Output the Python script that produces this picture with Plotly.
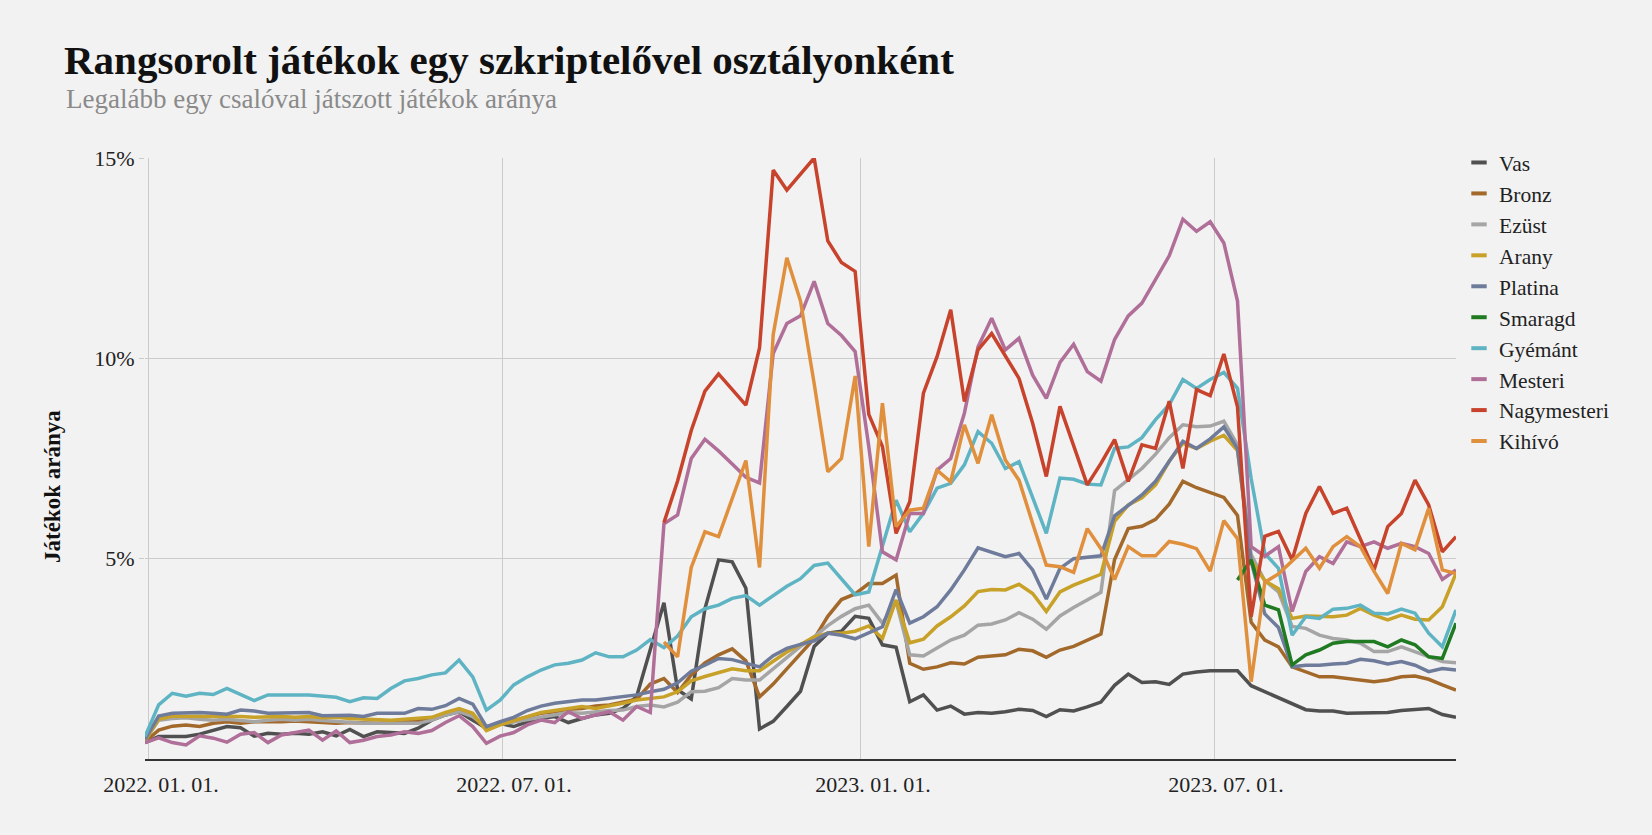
import pandas as pd
import plotly.graph_objects as go

# ---------------- data ----------------
start_date = "2021-12-30"
n_weeks = 97
dates = pd.date_range(start_date, periods=n_weeks, freq="7D")

N = None
vas = [0.41, 0.56, 0.56, 0.56, 0.62, 0.72, 0.81, 0.78, 0.57, 0.64, 0.62, 0.64, 0.62, 0.68, 0.58, 0.74,
       0.56, 0.68, 0.66, 0.64, 0.77, 0.97, 1.10, 1.18, 0.97, 0.77, 0.89, 0.81, 0.93, 1.01, 1.06, 0.91,
       1.01, 1.10, 1.14, 1.26, 1.56, 2.70, 3.90, 1.73, 1.50, 3.75, 4.97, 4.92, 4.26, 0.75, 0.94, 1.31,
       1.69, 2.81, 3.14, 3.19, 3.56, 3.51, 2.85, 2.79, 1.43, 1.60, 1.22, 1.32, 1.12, 1.16, 1.14, 1.18,
       1.24, 1.21, 1.06, 1.23, 1.20, 1.30, 1.42, 1.84, 2.12, 1.91, 1.93, 1.86, 2.12, 2.17, 2.20, 2.20,
       2.20, 1.83, 1.68, 1.55, 1.39, 1.23, 1.20, 1.20, 1.14, 1.14, 1.14, 1.16, 1.21, 1.24, 1.26, 1.11, 1.04]
bronz = [0.43, 0.72, 0.82, 0.85, 0.81, 0.89, 0.93, 0.89, 0.93, 0.92, 0.93, 0.95, 0.93, 0.91, 0.89, 0.91,
         0.89, 0.89, 0.91, 0.93, 0.95, 0.99, 1.11, 1.23, 1.07, 0.74, 0.87, 0.96, 1.06, 1.14, 1.18, 1.24,
         1.26, 1.32, 1.35, 1.43, 1.49, 1.87, 2.01, 1.66, 2.10, 2.40, 2.60, 2.75, 2.45, 1.55, 1.87, 2.25,
         2.62, 3.00, 3.56, 3.98, 4.12, 4.38, 4.38, 4.59, 2.39, 2.24, 2.30, 2.40, 2.37, 2.54, 2.57, 2.60,
         2.74, 2.70, 2.54, 2.72, 2.81, 2.97, 3.12, 4.98, 5.75, 5.81, 5.98, 6.36, 6.93, 6.77, 6.65, 6.53,
         6.08, 3.41, 2.97, 2.80, 2.30, 2.18, 2.05, 2.05, 2.01, 1.97, 1.93, 1.97, 2.05, 2.07, 1.99, 1.85, 1.72]
ezust = [0.47, 0.97, 1.01, 1.03, 0.99, 0.97, 0.99, 0.96, 0.93, 0.97, 0.99, 0.97, 0.99, 0.96, 0.93, 0.91,
         0.89, 0.89, 0.89, 0.89, 0.89, 0.97, 1.10, 1.18, 1.06, 0.81, 0.87, 0.93, 0.99, 1.04, 1.10, 1.16,
         1.14, 1.18, 1.21, 1.22, 1.31, 1.35, 1.30, 1.42, 1.68, 1.69, 1.78, 2.01, 1.97, 1.97, 2.25, 2.53,
         2.81, 3.05, 3.33, 3.56, 3.75, 3.84, 3.39, 3.93, 2.60, 2.57, 2.76, 2.97, 3.09, 3.34, 3.37, 3.47,
         3.65, 3.49, 3.24, 3.57, 3.78, 3.97, 4.16, 6.70, 6.98, 7.25, 7.61, 8.02, 8.34, 8.29, 8.31, 8.43,
         7.84, 5.10, 4.45, 4.17, 3.31, 3.26, 3.09, 3.01, 2.97, 2.89, 2.68, 2.68, 2.80, 2.68, 2.55, 2.43, 2.40]
arany = [0.47, 0.99, 1.07, 1.07, 1.06, 1.06, 1.07, 1.06, 1.04, 1.06, 1.06, 1.04, 1.06, 1.03, 1.04, 1.01,
         0.99, 0.97, 0.97, 0.99, 1.01, 1.04, 1.16, 1.26, 1.14, 0.71, 0.85, 0.96, 1.07, 1.16, 1.21, 1.26,
         1.31, 1.26, 1.32, 1.39, 1.47, 1.51, 1.55, 1.68, 1.95, 2.06, 2.15, 2.25, 2.20, 2.20, 2.44, 2.67,
         2.86, 3.05, 3.14, 3.14, 3.19, 3.32, 3.01, 3.97, 2.90, 2.99, 3.32, 3.55, 3.82, 4.18, 4.23, 4.22,
         4.36, 4.13, 3.68, 4.17, 4.34, 4.47, 4.61, 5.93, 6.34, 6.52, 6.84, 7.43, 7.88, 7.75, 7.93, 8.08,
         7.70, 4.95, 4.45, 4.25, 3.51, 3.57, 3.55, 3.55, 3.59, 3.76, 3.59, 3.47, 3.59, 3.49, 3.47, 3.80, 4.63]
platina = [0.49, 1.07, 1.14, 1.16, 1.16, 1.14, 1.12, 1.22, 1.20, 1.14, 1.14, 1.14, 1.16, 1.08, 1.09, 1.09,
           1.06, 1.14, 1.14, 1.14, 1.26, 1.24, 1.33, 1.51, 1.37, 0.81, 0.93, 1.04, 1.21, 1.32, 1.39, 1.43,
           1.47, 1.47, 1.51, 1.54, 1.60, 1.68, 1.74, 1.90, 2.19, 2.34, 2.51, 2.48, 2.39, 2.30, 2.58, 2.76,
           2.86, 2.95, 3.14, 3.09, 3.00, 3.16, 3.30, 4.23, 3.39, 3.55, 3.80, 4.22, 4.72, 5.27, 5.15, 5.05,
           5.13, 4.72, 3.99, 4.76, 5.00, 5.04, 5.07, 6.07, 6.34, 6.59, 6.93, 7.43, 7.93, 7.75, 7.99, 8.29,
           7.75, 4.93, 3.62, 3.28, 2.30, 2.34, 2.34, 2.37, 2.39, 2.49, 2.45, 2.37, 2.43, 2.34, 2.18, 2.26, 2.22]
smaragd = [N] * 80 + [4.47, 4.97, 3.84, 3.72, 2.35, 2.60, 2.72, 2.89, 2.93, 2.93, 2.93, 2.80, 2.97, 2.85,
                      2.55, 2.51, 3.39]
gyemant = [0.56, 1.35, 1.64, 1.57, 1.64, 1.61, 1.76, 1.60, 1.46, 1.60, 1.59, 1.60, 1.60, 1.57, 1.54, 1.43,
           1.53, 1.51, 1.76, 1.95, 2.01, 2.10, 2.15, 2.47, 2.05, 1.22, 1.47, 1.85, 2.05, 2.22, 2.35, 2.39,
           2.47, 2.65, 2.55, 2.55, 2.72, 2.98, 2.78, 3.07, 3.55, 3.75, 3.84, 4.01, 4.08, 3.84, 4.08, 4.31,
           4.50, 4.83, 4.89, 4.50, 4.10, 4.17, 5.30, 6.46, 5.67, 6.13, 6.76, 6.88, 7.34, 8.17, 7.88, 7.25,
           7.42, 6.55, 5.63, 7.01, 6.98, 6.86, 6.84, 7.75, 7.79, 8.02, 8.47, 8.84, 9.47, 9.25, 9.47, 9.65,
           9.25, 7.00, 5.13, 4.76, 3.09, 3.55, 3.51, 3.74, 3.76, 3.84, 3.64, 3.62, 3.74, 3.64, 3.14, 2.80, 3.72]
mesteri = [0.41, 0.53, 0.41, 0.35, 0.58, 0.52, 0.42, 0.62, 0.66, 0.41, 0.60, 0.66, 0.72, 0.47, 0.70, 0.41,
           0.47, 0.56, 0.60, 0.68, 0.64, 0.71, 0.91, 1.08, 0.81, 0.39, 0.57, 0.66, 0.85, 0.97, 0.91, 1.18,
           1.01, 1.10, 1.18, 0.97, 1.31, 1.16, 5.87, 6.09, 7.50, 7.98, 7.69, 7.36, 7.03, 6.89, 10.12, 10.87,
           11.06, 11.92, 10.87, 10.57, 10.17, 7.80, 5.17, 4.97, 6.13, 6.13, 7.21, 7.50, 8.63, 10.29, 11.00,
           10.21, 10.50, 9.58, 9.00, 9.90, 10.35, 9.67, 9.43, 10.47, 11.06, 11.38, 11.97, 12.56, 13.47,
           13.17, 13.41, 12.88, 11.43, 5.30, 5.06, 5.30, 3.68, 4.68, 5.05, 4.88, 5.42, 5.30, 5.42, 5.26,
           5.38, 5.30, 5.13, 4.48, 4.72]
nagymesteri = [N] * 38 + [5.90, 6.94, 8.20, 9.18, 9.61, 9.23, 8.83, 10.26, 14.70, 14.20, 14.60, 15.00,
                          12.93, 12.39, 12.17, 8.60, 7.80, 5.63, 6.42, 9.13, 10.04, 11.21, 8.92, 10.21,
                          10.62, 10.04, 9.50, 8.38, 7.05, 8.80, 7.85, 6.84, 7.38, 7.97, 6.93, 7.84, 7.75,
                          8.93, 7.25, 9.22, 9.07, 10.11, 8.79, 3.55, 5.56, 5.68, 4.97, 6.13, 6.80, 6.13,
                          6.26, 5.47, 4.72, 5.80, 6.13, 6.96, 6.34, 5.17, 5.55]
kihivo = [N] * 38 + [2.92, 2.55, 4.78, 5.67, 5.55, 6.47, 7.45, 4.78, 10.59, 12.51, 11.43, 9.37, 7.17, 7.50,
                     9.56, 5.30, 8.88, 5.80, 6.21, 6.26, 7.21, 6.92, 8.34, 7.38, 8.59, 7.46, 6.96, 5.88,
                     4.84, 4.80, 4.66, 5.75, 5.25, 4.48, 5.30, 5.07, 5.07, 5.43, 5.36, 5.25, 4.69, 5.95,
                     5.50, 1.93, 4.41, 4.62, 4.93, 5.26, 4.76, 5.30, 5.55, 5.30, 4.68, 4.13, 5.38, 5.22,
                     6.26, 4.72, 4.63]

series_names = ["Vas", "Bronz", "Ezüst", "Arany", "Platina", "Smaragd", "Gyémánt", "Mesteri",
                "Nagymesteri", "Kihívó"]
series_values = [vas, bronz, ezust, arany, platina, smaragd, gyemant, mesteri, nagymesteri, kihivo]
series_colors = ["#505050", "#a2692b", "#a5a5a5", "#c8a128", "#6e7b9a", "#1f7a22", "#5fb4c4",
                 "#b06f98", "#c8432c", "#e0903d"]

y_tick_vals = [5, 10, 15]
y_tick_text = ["5%", "10%", "15%"]
x_tick_vals = ["2022-01-01", "2022-07-01", "2023-01-01", "2023-07-01"]

title_text = "Rangsorolt játékok egy szkriptelővel osztályonként"
subtitle_text = "Legalább egy csalóval játszott játékok aránya"
y_title = "Játékok aránya"

# ---------------- figure ----------------
FONT = "Liberation Serif"
W, H = 1652, 835
L, R, T, B = 145, 196, 158, 76
plot_w, plot_h = W - L - R, H - T - B

fig = go.Figure()
for name, vals, col in zip(series_names, series_values, series_colors):
    fig.add_trace(go.Scatter(x=dates, y=vals, mode="lines", name=name, showlegend=False,
                             line=dict(color=col, width=3.5), connectgaps=False))
for name, col in zip(series_names, series_colors):
    fig.add_trace(go.Scatter(x=[None], y=[None], mode="markers", name=name, showlegend=True,
                             marker=dict(symbol="line-ew", size=11, color=col,
                                         line=dict(width=4, color=col))))


def px_x(x):
    return (x - L) / plot_w


def px_y(y):
    return (H - y - B) / plot_h


fig.update_layout(
    width=W, height=H, autosize=False,
    margin=dict(l=L, r=R, t=T, b=B, autoexpand=False),
    paper_bgcolor="#f2f2f2", plot_bgcolor="#f2f2f2",
    font=dict(family=FONT, size=22, color="#222222"),
    title=dict(text="<b>" + title_text + "</b>", x=64 / W, xanchor="left",
               y=1 - 45 / H, yanchor="top",
               font=dict(family=FONT, size=41, color="#111111")),
    legend=dict(xref="container", yref="container", x=1459 / W, y=1 - 142 / H,
                xanchor="left", yanchor="top", bgcolor="rgba(0,0,0,0)",
                font=dict(family=FONT, size=21.5, color="#222222"),
                itemwidth=30, traceorder="normal"),
    xaxis=dict(range=[dates[0], dates[-1]], tickvals=x_tick_vals, tickformat="%Y. %m. %d.",
               showgrid=True, gridcolor="#cbcbcb", gridwidth=1, zeroline=False,
               showline=True, linecolor="#333333", linewidth=1.5, ticks="",
               ticklabelshift=12, ticklabelstandoff=5,
               tickfont=dict(family=FONT, size=22, color="#222222")),
    yaxis=dict(range=[0, 15], tickvals=y_tick_vals, ticktext=y_tick_text,
               showgrid=True, gridcolor="#cbcbcb", gridwidth=1, zeroline=False,
               showline=False, ticks="outside", ticklen=5, tickcolor="#cbcbcb",
               tickfont=dict(family=FONT, size=22, color="#222222")),
    annotations=[
        dict(text=subtitle_text, xref="paper", yref="paper", x=px_x(64), y=px_y(82),
             xanchor="left", yanchor="top", showarrow=False,
             font=dict(family=FONT, size=27, color="#8a8a8a")),
        dict(text="<b>" + y_title + "</b>", xref="paper", yref="paper", x=px_x(52), y=px_y(487),
             xanchor="center", yanchor="middle", textangle=-90, showarrow=False,
             font=dict(family=FONT, size=23, color="#111111")),
    ],
)

fig.write_html("out.html")
